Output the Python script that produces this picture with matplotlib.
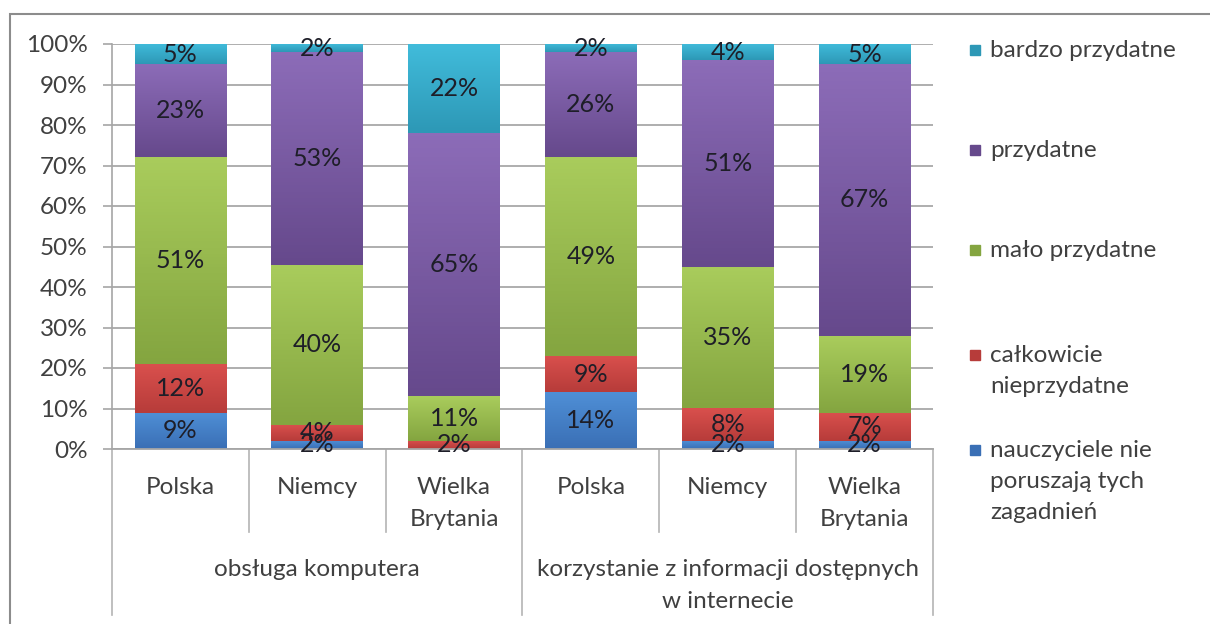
import matplotlib.pyplot as plt
import numpy as np
from matplotlib.patches import Rectangle
from matplotlib.colors import LinearSegmentedColormap
import matplotlib.transforms as mtransforms

plt.rcParams['font.family'] = ['Lato', 'DejaVu Sans']

countries = ["Polska", "Niemcy", "Wielka\nBrytania", "Polska", "Niemcy", "Wielka\nBrytania"]
groups = ["obsługa komputera", "korzystanie z informacji dostępnych\nw internecie"]

series = ["nauczyciele nie\nporuszają tych\nzagadnień", "całkowicie\nnieprzydatne",
          "mało przydatne", "przydatne", "bardzo przydatne"]
nauczyciele = [9, 2, 0, 14, 2, 2]
calkowicie = [12, 4, 2, 9, 8, 7]
malo = [51, 40, 11, 49, 35, 19]
przydatne = [23, 53, 65, 26, 51, 67]
bardzo = [5, 2, 22, 2, 4, 5]

# (top colour, bottom colour) per series
colors = [("#4f8fd6", "#3a6fb5"), ("#d9504d", "#b73c3a"), ("#a9cc5c", "#84a540"),
          ("#8c6cb8", "#66498c"), ("#41bcdb", "#2d98b6")]

values = np.array([nauczyciele, calkowicie, malo, przydatne, bardzo], dtype=float)
shares = values / values.sum(axis=0) * 100

fs = 17.5
fig = plt.figure(figsize=(12.1, 6.24), dpi=100)
ax = fig.add_axes([112 / 1210, 1 - 449 / 624, (933 - 112) / 1210, 405 / 624])

# outer frame of the chart
fig.patches.append(Rectangle((10 / 1210, -0.05), 1.2, 1 - 14 / 624 + 0.05,
                             transform=fig.transFigure, fill=False,
                             edgecolor="#8c8c8c", linewidth=1.5))

x = np.arange(len(countries))
bottom = np.zeros(len(countries))
for i in range(len(series)):
    bars = ax.bar(x, shares[i], 0.67, bottom=bottom, color="none", zorder=3)
    cmap = LinearSegmentedColormap.from_list("g", [colors[i][1], colors[i][0]])
    grad = np.linspace(1, 0, 64).reshape(-1, 1)
    for b in bars:
        h = b.get_height()
        if h <= 0:
            continue
        x0 = b.get_x()
        ax.imshow(grad, cmap=cmap, aspect="auto", zorder=3,
                  extent=(x0, x0 + b.get_width(), b.get_y(), b.get_y() + h))
    for j in range(len(countries)):
        if values[i, j] > 0:
            ax.text(x[j], bottom[j] + shares[i, j] / 2, f"{int(values[i, j])}%",
                    ha="center", va="center", fontsize=18, color="#1e1e28", zorder=5)
    bottom += shares[i]

ax.set_xlim(-0.5, len(countries) - 0.5)
ax.set_ylim(0, 100)
ax.set_yticks(np.arange(0, 101, 10))
ax.set_yticklabels([f"{v}%" for v in range(0, 101, 10)], fontsize=fs, color="#404040")
ax.tick_params(axis="y", length=6.5, width=1.2, color="#a6a6a6", pad=11)
ax.set_xticks([])
ax.yaxis.grid(True, color="#a8a8a8", linewidth=1.3, zorder=0)
ax.set_axisbelow(True)
for s in ["top", "right", "bottom"]:
    ax.spines[s].set_visible(False)
ax.spines["left"].set_color("#a6a6a6")
ax.spines["left"].set_linewidth(1.2)

# category axis with two levels
trans = mtransforms.blended_transform_factory(ax.transData, ax.transAxes)
ax.plot([-0.5, 5.5], [0, 0], color="#a6a6a6", lw=1.3, transform=trans, clip_on=False, zorder=4)
for pos in [-0.5, 2.5, 5.5]:
    ax.plot([pos, pos], [0, -0.41], color="#b4b4b4", lw=1.2, transform=trans, clip_on=False)
for pos in [0.5, 1.5, 3.5, 4.5]:
    ax.plot([pos, pos], [0, -0.205], color="#b4b4b4", lw=1.2, transform=trans, clip_on=False)
for j, c in enumerate(countries):
    ax.text(x[j], -0.07, c, ha="center", va="top", fontsize=fs, color="#404040",
            linespacing=1.65, transform=trans)
ax.text(1, -0.272, groups[0], ha="center", va="top", fontsize=fs, color="#404040",
        linespacing=1.65, transform=trans)
ax.text(4, -0.272, groups[1], ha="center", va="top", fontsize=fs, color="#404040",
        linespacing=1.65, transform=trans)

# legend
legend_y = [50, 150, 250, 355, 450]
for i in range(len(series) - 1, -1, -1):
    yy = legend_y[len(series) - 1 - i]
    fig.patches.append(Rectangle((970 / 1210, 1 - (yy + 5) / 624), 10 / 1210, 10 / 624,
                                 transform=fig.transFigure, color=colors[i][1]))
    fig.text(990 / 1210, 1 - (yy - 10) / 624, series[i], ha="left", va="top",
             fontsize=fs, color="#404040", linespacing=1.6)

fig.savefig("out.png", dpi=100)
